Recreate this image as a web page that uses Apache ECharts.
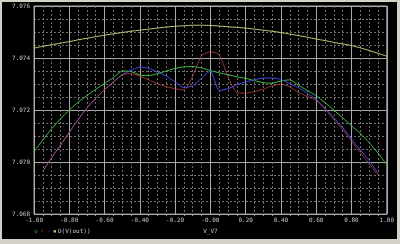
<!DOCTYPE html>
<html><head><meta charset="utf-8">
<script src="https://cdn.jsdelivr.net/npm/echarts@6/dist/echarts.min.js"></script>
<style>
html,body{margin:0;padding:0;background:#d4d0c8;width:400px;height:244px;overflow:hidden}
#c{position:absolute;left:2px;top:2px;width:395px;height:237px;background:#000}
</style>
</head><body><div id="c"></div><script>
const xValues = [-1.00,-0.95,-0.90,-0.85,-0.80,-0.75,-0.70,-0.65,-0.60,-0.55,-0.50,-0.45,-0.40,-0.35,-0.30,-0.25,-0.20,-0.15,-0.10,-0.05,0.00,0.05,0.10,0.15,0.20,0.25,0.30,0.35,0.40,0.45,0.50,0.55,0.60,0.65,0.70,0.75,0.80,0.85,0.90,0.95,1.00];
const yellowVals = [7.07438,7.07445,7.07451,7.07457,7.07463,7.07470,7.07476,7.07482,7.07488,7.07493,7.07498,7.07503,7.07507,7.07511,7.07515,7.07519,7.07522,7.07524,7.07526,7.07526,7.07525,7.07523,7.07520,7.07518,7.07515,7.07511,7.07507,7.07503,7.07498,7.07492,7.07486,7.07480,7.07473,7.07467,7.07460,7.07454,7.07448,7.07439,7.07429,7.07418,7.07407];
const greenVals = [7.07040,7.07085,7.07128,7.07166,7.07200,7.07230,7.07256,7.07280,7.07302,7.07325,7.07350,7.07348,7.07335,7.07332,7.07340,7.07350,7.07360,7.07366,7.07367,7.07362,7.07352,7.07343,7.07336,7.07328,7.07322,7.07313,7.07305,7.07303,7.07312,7.07316,7.07295,7.07275,7.07255,7.07228,7.07200,7.07170,7.07140,7.07110,7.07075,7.07035,7.06990];
const blueVals = [null,7.06964,7.07017,7.07065,7.07114,7.07163,7.07208,7.07245,7.07279,7.07308,7.07336,7.07353,7.07365,7.07361,7.07346,7.07331,7.07308,7.07286,7.07293,7.07323,7.07350,7.07275,7.07282,7.07297,7.07308,7.07316,7.07323,7.07323,7.07318,7.07301,7.07286,7.07264,7.07241,7.07207,7.07170,7.07133,7.07088,7.07047,7.07006,7.06957,null];
const redVals = [null,7.06964,7.07017,7.07065,7.07114,7.07163,7.07208,7.07245,7.07279,7.07308,7.07336,7.07340,7.07331,7.07316,7.07301,7.07290,7.07282,7.07277,7.07331,7.07409,7.07424,7.07413,7.07327,7.07267,7.07265,7.07271,7.07280,7.07293,7.07299,7.07290,7.07267,7.07252,7.07237,7.07204,7.07163,7.07125,7.07080,7.07036,7.06994,7.06950,null];
const xTickLabels = ['-1.00','-0.80','-0.60','-0.40','-0.20','-0.00','0.20','0.40','0.60','0.80','1.00'];
const yTickLabels = ['7.068','7.070','7.072','7.074','7.076'];
const legendText = 'D(V(out))';
const xAxisTitle = 'V_V7';

const pair = vals => xValues.map((x,i)=>[x, vals[i]]);
const font = 'DejaVu Sans Mono';
const txt = '#c8c8c8';
const chart = echarts.init(document.getElementById('c'), null, {renderer:'canvas'});
chart.setOption({
  animation:false,
  backgroundColor:'#000',
  grid:{left:32,right:5,top:4,bottom:19,show:true,borderColor:'#a8a8a8',borderWidth:1,backgroundColor:'transparent'},
  xAxis:{type:'value',min:-1,max:1,interval:0.2,
    name:xAxisTitle,nameLocation:'middle',nameGap:12,
    nameTextStyle:{color:txt,fontFamily:font,fontSize:6},
    axisLine:{show:false},
    axisTick:{show:false},
    minorTick:{show:true,splitNumber:4,length:2,lineStyle:{color:'#a0a0a0'}},
    axisLabel:{color:txt,fontFamily:font,fontSize:6,margin:3,
      formatter:v=>xTickLabels[Math.round((v+1)/0.2)]},
    splitLine:{show:true,lineStyle:{color:'#a8a8a8',width:1}},
    minorSplitLine:{show:true,lineStyle:{color:'#707070',width:1,type:[2,2]}}
  },
  yAxis:{type:'value',min:7.068,max:7.076,interval:0.002,
    axisLine:{show:false},
    axisTick:{show:true,length:3,lineStyle:{color:'#a8a8a8'}},
    minorTick:{show:false,splitNumber:4},
    axisLabel:{color:txt,fontFamily:font,fontSize:6,margin:4,
      formatter:v=>yTickLabels[Math.round((v-7.068)/0.002)]},
    splitLine:{show:true,lineStyle:{color:'#a8a8a8',width:1}},
    minorSplitLine:{show:true,lineStyle:{color:'#707070',width:1,type:[2,2]}}
  },
  graphic:[
    {type:'text',left:32,top:226,style:{text:'◇',fill:'#44c044',font:'6px '+font}},
    {type:'text',left:38,top:226,style:{text:'▿',fill:'#c84848',font:'6px '+font}},
    {type:'text',left:45,top:226,style:{text:'◦',fill:'#4848e8',font:'6px '+font}},
    {type:'text',left:51,top:226,style:{text:'▪',fill:'#c8c878',font:'6px '+font}},
    {type:'text',left:56,top:226,style:{text:legendText,fill:txt,font:'6px '+font}}
  ],
  series:[
    {type:'line',data:pair(yellowVals),showSymbol:false,lineStyle:{color:'#c8c878',width:1},smooth:0.2},
    {type:'line',data:pair(greenVals),showSymbol:false,lineStyle:{color:'#44c044',width:1},smooth:0.2},
    {type:'line',data:pair(blueVals),showSymbol:false,lineStyle:{color:'#4848e8',width:1},smooth:0.2},
    {type:'line',data:pair(redVals),showSymbol:false,lineStyle:{color:'#d04848',width:1,opacity:0.7},smooth:0.2}
  ]
});
</script></body></html>
